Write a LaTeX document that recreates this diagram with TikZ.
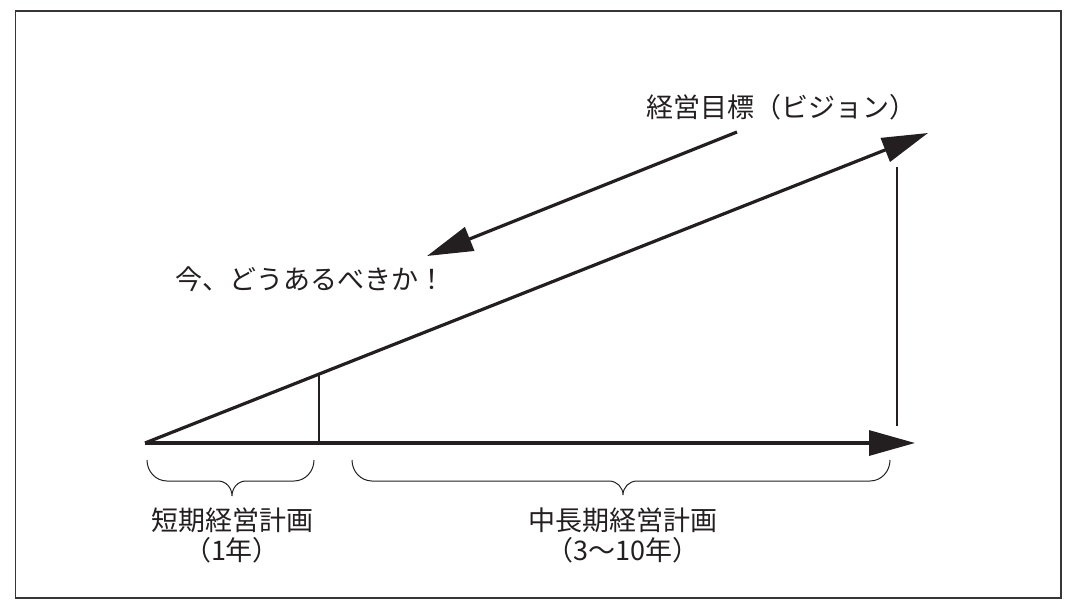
\documentclass[tikz,border=0pt]{standalone}
\usepackage{fontspec}
\setmainfont{Noto Sans CJK JP}
\usetikzlibrary{arrows.meta}
\definecolor{ink}{HTML}{231F20}
\tikzset{
  thickline/.style={draw=ink, line width=3.2pt, -{Triangle[length=46pt,width=25pt]}},
  thinline/.style={draw=ink, line width=1.1pt},
  bracestyle/.style={draw=ink, line width=1pt},
  lbl/.style={text=ink, inner sep=0pt, font=\fontsize{27}{30}\selectfont},
}
\begin{document}
\begin{tikzpicture}[x=1pt,y=-1pt]
\useasboundingbox (0,0) rectangle (1078,610);
\draw[draw=ink!90, line width=1.6pt] (15.5,11) rectangle (1061,598);

\coordinate (O) at (145,443);
\coordinate (H) at (915,443);
\coordinate (D) at (928,133);
\coordinate (S) at (319,374);
\coordinate (Sb) at (319,443);
\coordinate (Vt) at (897,167);
\coordinate (Vb) at (897,426);
\coordinate (Bs) at (737,132);
\coordinate (Be) at (427,256);

\draw[thickline] (O) -- (H);
\draw[thickline] (O) -- (D);
\draw[thickline] (Bs) -- (Be);
\draw[thinline] (S) -- (Sb);
\draw[thinline] (Vt) -- (Vb);

% braces
\coordinate (L1) at (147,460);
\coordinate (L2) at (314,460);
\coordinate (R1) at (352,460);
\coordinate (R2) at (890,460);
\draw[bracestyle] (L1) to[out=-90,in=180] (167,481) -- (218,481)
  to[out=0,in=90] (232,496) to[out=90,in=180] (246,481) -- (294,481)
  to[out=0,in=-90] (L2);
\draw[bracestyle] (R1) to[out=-90,in=180] (372,481) -- (609,481)
  to[out=0,in=90] (623,495) to[out=90,in=180] (637,481) -- (870,481)
  to[out=0,in=-90] (R2);

\node[lbl, anchor=west] (goal) at (646,107) {経営目標（ビジョン）};
\node[lbl, anchor=west] (now) at (175,279) {今、どうあるべきか！};
\node[lbl, align=center] (short) at (232,535) {短期経営計画\\（1年）};
\node[lbl, align=center] (mid) at (623,535) {中長期経営計画\\（3〜10年）};
\end{tikzpicture}
\end{document}
